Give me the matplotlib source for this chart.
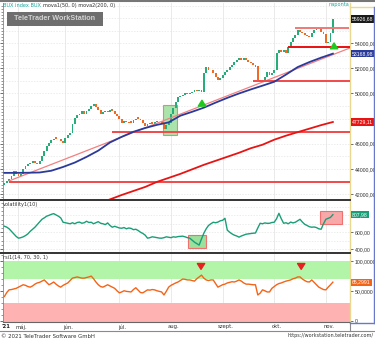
import numpy as np
import matplotlib.pyplot as plt
import matplotlib.transforms as mtransforms
from matplotlib.patches import Rectangle, FancyArrowPatch
from matplotlib.lines import Line2D
from matplotlib.ticker import FixedLocator, MultipleLocator, FuncFormatter

plt.rcParams['font.family'] = ['DejaVu Sans']

W, H = 375, 341

# BUX napi gyertyák: nyitó és záró értékek
opens = [42750, 42900, 43050, 43200, 43440, 43840, 43600, 43440, 43600, 44000,
         44240, 44350, 44480, 44640, 44500, 44400, 44640, 45000, 45440, 45840,
         46080, 46300, 46500, 46400, 46350, 46240, 46080, 46480, 46700, 46880,
         47600, 48080, 48250, 48400, 48640, 48400, 48600, 48800, 49040, 49200,
         48950, 48720, 48400, 48500, 48640, 48560, 48750, 48640, 48400, 48200,
         48000, 47680, 47840, 47760, 47800, 47680, 47900, 48100, 48000, 47850,
         47680, 47440, 47600, 47700, 47600, 47760, 47800, 47840, 47600, 47200,
         47500, 47680, 48400, 48880, 49300, 49680, 49760, 49840, 50050, 49950,
         50000, 50080, 50240, 50200, 50240, 50080, 51600, 52080, 51900, 51840,
         51600, 51300, 51040, 51200, 51450, 51680, 51840, 52080, 52300, 52480,
         52640, 52800, 52700, 52800, 52640, 52500, 52400, 52240, 52200, 51040,
         50880, 51100, 51280, 51680, 51440, 51600, 51840, 53200, 53440, 53300,
         53440, 53200, 53680, 54080, 54400, 54640, 55040, 54900, 54800, 54640,
         54550, 54480, 54800, 55040, 55100, 55200, 54900, 54700, 54000, 54080,
         54800]
closes = [42900, 43050, 43200, 43440, 43840, 43600, 43440, 43600, 44000, 44240,
          44350, 44480, 44640, 44500, 44400, 44640, 45000, 45440, 45840, 46080,
          46300, 46400, 46400, 46350, 46240, 46080, 46480, 46700, 46880, 47600,
          48080, 48250, 48400, 48640, 48400, 48600, 48800, 49040, 49200, 48950,
          48720, 48400, 48500, 48640, 48560, 48700, 48640, 48400, 48200, 48000,
          47680, 47840, 47760, 47680, 47680, 47900, 48000, 48000, 47850, 47680,
          47440, 47600, 47680, 47600, 47760, 47800, 47840, 47600, 47200, 47500,
          47680, 48400, 48880, 49300, 49680, 49760, 49840, 50000, 49950, 50000,
          50080, 50240, 50200, 50240, 50080, 51600, 52080, 51900, 51840, 51600,
          51300, 51040, 51200, 51450, 51680, 51840, 52080, 52300, 52480, 52640,
          52800, 52700, 52800, 52640, 52500, 52400, 52240, 52100, 51040, 50880,
          51100, 51280, 51680, 51440, 51600, 51840, 53200, 53440, 53300, 53440,
          53200, 53680, 54080, 54400, 54640, 55040, 54900, 54800, 54640, 54550,
          54480, 54800, 55040, 55100, 55200, 54900, 54700, 54000, 54080, 54800,
          55926.68]

# mozgóátlagok
ma50_idx = [0, 5, 10, 15, 20, 25, 30, 35, 40, 45, 50, 55, 60, 65, 70,
            75, 80, 85, 90, 95, 100, 105, 110, 115, 120, 125, 130, 135, 140]
ma50 = [43680, 43680, 43690, 43710, 43850, 44150, 44500, 44950, 45450, 46100,
        46550, 46950, 47250, 47500, 47700, 48230, 48540, 48870, 49270, 49650,
        50000, 50320, 50620, 50930, 51500, 52100, 52500, 52850, 53168.98]
ma200_idx = [44, 50, 55, 60, 65, 70, 75, 80, 85, 90, 95, 100, 105, 110,
             115, 120, 125, 130, 135, 140]
ma200 = [41500, 41920, 42240, 42560, 42960, 43280, 43600, 43960, 44320, 44640,
         44960, 45280, 45640, 45920, 46320, 46640, 46920, 47200, 47480, 47729.11]

# trendvonal és vízszintes szintek
trend_idx = [2, 147]
trend_val = [43040, 53600]
levels = [42960, 46960, 50960, 53680, 55200]
level_start = [2, 46, 106, 121, 124]
level_end = [148, 148, 148, 148, 147]

volatility = [671, 660, 640, 610, 580, 550, 529, 535, 545, 560,
              580, 610, 635, 659, 690, 720, 753, 770, 790, 800,
              812, 820, 805, 790, 770, 718, 712, 706, 700, 712,
              700, 715, 720, 706, 712, 730, 715, 718, 700, 712,
              725, 706, 700, 690, 710, 680, 659, 670, 660, 650,
              647, 655, 640, 650, 645, 630, 635, 620, 600, 585,
              565, 529, 535, 545, 541, 535, 530, 529, 535, 545,
              540, 535, 545, 541, 548, 550, 553, 545, 535, 529,
              505, 482, 465, 447, 520, 588, 640, 680, 700, 718,
              712, 720, 735, 741, 765, 624, 600, 580, 565, 555,
              541, 555, 565, 576, 580, 585, 588, 590, 650, 706,
              700, 710, 705, 706, 715, 718, 760, 824, 760, 706,
              712, 700, 720, 710, 718, 735, 753, 720, 694, 680,
              665, 659, 662, 655, 640, 635, 700, 753, 765, 776,
              807.98]

rsi = [41.5, 48, 52.5, 53, 54, 55, 57, 59, 61, 60,
       58, 57, 59, 62, 64, 65, 67, 69, 65, 61,
       63, 65.6, 62, 59, 57, 60, 62, 64, 68, 72,
       73, 74, 73, 72, 72, 73, 74, 75.4, 71, 65.6,
       61, 58, 57, 59, 61, 59, 57, 55, 51, 47.5,
       49, 51, 50, 49.5, 49, 53, 56, 52, 48, 47.5,
       50, 52.5, 52, 53, 52.5, 51, 50, 49, 44, 50,
       57, 60, 62, 64, 65.6, 68, 70.5, 70, 69, 69,
       68, 67, 71, 74, 77, 72, 69, 68, 69, 69,
       63, 57, 59, 61, 62, 64, 65, 66, 65.6, 67,
       69, 67, 64, 62, 62, 61.5, 61, 61, 44, 47,
       52.5, 51, 49, 49, 55, 58, 61, 63, 64, 65.6,
       67, 68, 69, 71, 72, 74, 74, 70.5, 68, 66,
       65.6, 69, 65, 61, 57, 55, 53, 52.5, 57, 61,
       65.2991]

month_pos = [6, 26, 49, 71, 93, 115, 137]
month_labels = ['máj.', 'jún.', 'júl.', 'aug.', 'szept.', 'okt.', 'nov.']

# jelölések
main_box = (67.5, 73.5, 46720, 49120)
vol_boxes = [(78.2, 85.9, 412, 565, '#9be09b'), (134.6, 144, 694, 847, '#f8a8a8')]
up_arrows = [(84.2, 48880, 49680), (140.5, 53520, 54240)]
down_arrows = [(83.8, 97, 82), (126.5, 97, 82)]

GREEN = '#26ad7a'
ORANGE = '#f26a22'
XMAX = 147.3
ARROW = 'simple,head_width=0.75,head_length=0.6,tail_width=0.35'

fig = plt.figure(figsize=(W / 100, H / 100), dpi=100)
fig.patch.set_facecolor('white')


def rect(top, bottom):
    return [3 / W, 1 - bottom / H, 347 / W, (bottom - top) / H]


def fx(x):
    return x / W


def fy(y):
    return 1 - y / H


ax = fig.add_axes(rect(3, 199))
axv = fig.add_axes(rect(200.5, 252))
axr = fig.add_axes(rect(253.5, 322))

for a in (ax, axv, axr):
    a.set_xlim(-0.6, XMAX)
    a.set_facecolor('white')
    for p in month_pos:
        a.axvline(p, color='#e6e6e6', lw=0.6, zorder=0)
    a.spines['left'].set_color('#888888')
    a.spines['left'].set_linewidth(0.6)
    a.spines['right'].set_color('#e8d890')
    a.spines['right'].set_linewidth(1.0)
    a.spines['top'].set_visible(False)
    a.spines['bottom'].set_visible(False)
    a.set_xticks([])
    a.yaxis.set_ticks_position('both')
    a.tick_params(axis='y', which='major', left=True, right=True,
                  labelleft=False, labelright=True, length=2, width=0.5,
                  pad=1.5, colors='#333333', labelsize=3.7)
    a.tick_params(axis='y', which='minor', left=True, right=False,
                  length=1.3, width=0.4, color='#444444')

axr.spines['bottom'].set_visible(True)
axr.spines['bottom'].set_color('#666666')
axr.spines['bottom'].set_linewidth(0.8)

# --- árfolyam panel ---
ax.set_ylim(41600, 57200)
for v in np.arange(42000, 57001, 1000):
    ax.axhline(v, color='#e4e4e4', lw=0.5, ls=(0, (2, 2)), zorder=0)

x = np.arange(len(closes))
o = np.array(opens)
c = np.array(closes)
cols = [GREEN if cc >= oo else ORANGE for oo, cc in zip(o, c)]
ax.bar(x, c - o, bottom=o, width=0.8, color=cols, zorder=3)

ax.add_patch(Rectangle((main_box[0], main_box[2]), main_box[1] - main_box[0],
                       main_box[3] - main_box[2], fc='#9be09b', ec='#f07070',
                       lw=0.8, alpha=0.85, zorder=2))

ax.plot(trend_idx, trend_val, color='#f48080', lw=0.9, zorder=4)
ax.plot(ma50_idx, ma50, color='#2a3a9a', lw=1.3, zorder=5)
ax.plot(ma200_idx, ma200, color='#e81414', lw=1.3, zorder=5)

level_colors = ['#f04a4a', '#f04a4a', '#f04a4a', '#e81010', '#f07878']
for lv, s, e, col in zip(levels, level_start, level_end, level_colors):
    ax.plot([s, e], [lv, lv], color=col, lw=1.4, zorder=4, solid_capstyle='butt')

for xa, y0, y1 in up_arrows:
    ax.add_patch(FancyArrowPatch((xa, y0), (xa, y1), arrowstyle=ARROW,
                                 mutation_scale=7, color='#1ec81e', zorder=6))

ax.yaxis.set_major_locator(FixedLocator([42000, 44000, 46000, 50000, 52000, 54000]))
ax.yaxis.set_minor_locator(MultipleLocator(250))
ax.yaxis.set_major_formatter(FuncFormatter(lambda v, p: f'{v:.2f}'.replace('.', ',')))

# --- volatilitás panel ---
axv.set_ylim(365, 976)
for v in [400, 500, 600, 700, 800, 900]:
    axv.axhline(v, color='#e4e4e4', lw=0.5, ls=(0, (2, 2)), zorder=0)
for x0, x1, y0, y1, col in vol_boxes:
    axv.add_patch(Rectangle((x0, y0), x1 - x0, y1 - y0, fc=col, ec='#f07070',
                            lw=0.8, zorder=2))
axv.plot(x, volatility, color='#1a9e78', lw=1.0, zorder=4)
axv.yaxis.set_major_locator(FixedLocator([400, 600]))
axv.yaxis.set_minor_locator(MultipleLocator(50))
axv.yaxis.set_major_formatter(FuncFormatter(lambda v, p: f'{v:.2f}'.replace('.', ',')))

# --- RSI panel ---
axr.set_ylim(-1, 113)
axr.axhspan(70, 100, color='#b2f5a8', zorder=1, lw=0)
axr.axhspan(-1, 30, color='#ffb2b2', zorder=1, lw=0)
axr.plot(x, rsi, color='#f46418', lw=1.0, zorder=4)
for xa, y0, y1 in down_arrows:
    axr.add_patch(FancyArrowPatch((xa, y0), (xa, y1), arrowstyle=ARROW,
                                  mutation_scale=7, color='#e82020', zorder=6))
axr.yaxis.set_major_locator(FixedLocator([0, 50, 100]))
axr.yaxis.set_minor_locator(MultipleLocator(10))
axr.yaxis.set_major_formatter(FuncFormatter(
    lambda v, p: '0' if v == 0 else f'{v:.4f}'.replace('.', ',')))

axr.set_xticks([p + 1.2 for p in month_pos])
axr.set_xticklabels(month_labels)
axr.tick_params(axis='x', length=0, pad=1.5, labelsize=3.8, colors='#333333')
axr.text(0.8, -0.03, "'21", transform=axr.get_xaxis_transform(), ha='center',
         va='top', fontsize=3.8, fontweight='bold', color='#222222')

for a in (ax, axv, axr):
    for lab in a.get_yticklabels():
        lab.set_fontfamily('Liberation Sans')


# aktuális értékek a jobb oldali skálán
def value_tag(a, val, text, fc):
    tr = mtransforms.blended_transform_factory(a.transAxes, a.transData)
    a.text(1.006, val, text, transform=tr, ha='left', va='center',
           fontsize=3.7, fontfamily='Liberation Sans', color='white',
           clip_on=False, zorder=20,
           bbox=dict(boxstyle='square,pad=0.22', fc=fc, ec='none'))


value_tag(ax, closes[-1], '55926,68', '#1a1a1a')
value_tag(ax, ma50[-1], '53168,98', '#2a3a9a')
value_tag(ax, ma200[-1], '47729,11', '#e81414')
value_tag(axv, volatility[-1], '807,98', '#1a9e78')
value_tag(axr, rsi[-1], '65,2991', '#f46418')

# feliratok
renderer = fig.canvas.get_renderer()
t1 = fig.text(fx(3), fy(5.5), 'BUX index BUX', fontsize=3.6, color='#1aa8a0', va='center')
x_next = t1.get_window_extent(renderer).x1 + 2
fig.text(x_next / W, fy(5.5), 'mova1(50, 0) mova2(200, 0)', fontsize=3.6,
         color='#333333', va='center')
fig.text(fx(339), fy(4.5), 'naponta', fontsize=3.6, color='#1aa8a0', va='center', ha='center')
fig.add_artist(Rectangle((fx(7), fy(26)), fx(96), 14 / H, transform=fig.transFigure,
                         fc='#6e6e6e', ec='none', zorder=10))
fig.text(fx(55), fy(19), 'TeleTrader WorkStation', fontsize=5.2, fontweight='bold',
         fontfamily='Liberation Sans', color='#d2d2d2', ha='center', va='center',
         zorder=11)
fig.text(fx(3), fy(204.5), 'volatility1(10)', fontsize=3.6, color='#333333', va='center')
fig.text(fx(3), fy(257), 'rsi1(14, 70, 30, 1)', fontsize=3.6, color='#333333', va='center')

fig.text(fx(1), fy(336), '© 2021 TeleTrader Software GmbH', fontsize=3.9,
         color='#333333', va='center')
fig.text(fx(374), fy(336), 'https://workstation.teletrader.com/', fontsize=3.5,
         color='#333333', va='center', ha='right')


# keretvonalak
def fline(x0, y0, x1, y1, col, lw):
    fig.add_artist(Line2D([fx(x0), fx(x1)], [fy(y0), fy(y1)], transform=fig.transFigure,
                          color=col, lw=lw))


fline(0, 0.5, 375, 0.5, '#777777', 1.5)
fline(0, 200, 350, 200, '#333333', 1.4)
fline(0, 252.8, 350, 252.8, '#333333', 1.4)
fline(0, 331, 375, 331, '#8a8a8a', 0.8)
fline(350, 322, 350, 331, '#8a8a8a', 0.8)
fline(350, 7, 373.5, 7, '#e8d890', 1.0)
fline(373.5, 7, 373.5, 322.5, '#6a78cc', 1.0)
fline(350, 322.5, 373.5, 322.5, '#6a78cc', 1.0)

fig.savefig('out.png', dpi=100)
